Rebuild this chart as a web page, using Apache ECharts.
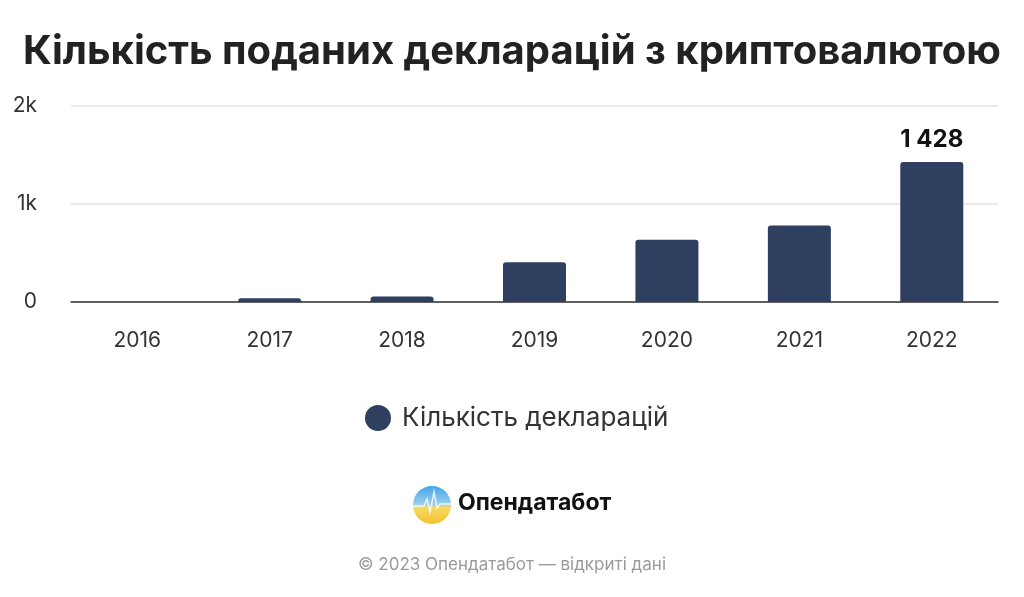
<!DOCTYPE html>
<html>
<head>
<meta charset="utf-8">
<script src="https://cdn.jsdelivr.net/npm/echarts@6/dist/echarts.min.js"></script>
<style>
html, body { margin: 0; padding: 0; background: #fff; }
#chart { width: 1024px; height: 597px; }
</style>
</head>
<body>
<div id="chart"></div>
<script>
var years = ['2016', '2017', '2018', '2019', '2020', '2021', '2022'];
var declarations = [1, 38, 55, 405, 635, 780, 1428];
var yTicks = { min: 0, max: 2000, interval: 1000 };
var barColor = '#2e3f5f';
var fontFamily = 'Inter, "Noto Sans", sans-serif';

function yLabel(value) {
    return value === 0 ? '0' : (value / 1000) + 'k';
}

function barData() {
    var last = declarations.length - 1;
    return declarations.map(function (v, i) {
        if (i !== last) {
            return v;
        }
        return {
            value: v,
            label: {
                show: true,
                position: 'top',
                distance: 10,
                formatter: function (p) {
                    return String(p.value).replace(/\B(?=(\d{3})+(?!\d))/g, ' ');
                },
                fontSize: 24,
                fontWeight: 'bold',
                color: '#111',
                fontFamily: fontFamily
            }
        };
    });
}

function initChart() {
    var chart = echarts.init(document.getElementById('chart'));
    var option = {
        animation: false,
        backgroundColor: '#fff',
        title: {
            text: 'Кількість поданих декларацій з криптовалютою',
            left: 'center',
            top: 27,
            textStyle: {
                fontSize: 40,
                fontWeight: 'bold',
                color: '#222',
                fontFamily: fontFamily
            }
        },
        grid: {
            left: 71,
            right: 26,
            top: 106,
            bottom: 295,
            containLabel: false
        },
        legend: {
            left: 360,
            top: 400,
            icon: 'circle',
            itemWidth: 26,
            itemHeight: 26,
            itemGap: 10,
            textStyle: {
                fontSize: 26,
                color: '#333',
                padding: [0, 0, 0, 6],
                fontFamily: fontFamily
            },
            data: ['Кількість декларацій']
        },
        xAxis: {
            type: 'category',
            data: years,
            axisLine: { lineStyle: { color: '#333', width: 1.5 } },
            axisTick: { show: false },
            axisLabel: {
                margin: 28,
                fontSize: 21,
                color: '#333',
                fontFamily: fontFamily
            }
        },
        yAxis: {
            type: 'value',
            min: yTicks.min,
            max: yTicks.max,
            interval: yTicks.interval,
            axisLine: { show: false },
            axisTick: { show: false },
            splitLine: { lineStyle: { color: '#e3e3e3', width: 1.5 } },
            axisLabel: {
                margin: 34,
                fontSize: 21,
                color: '#333',
                fontFamily: fontFamily,
                formatter: yLabel
            }
        },
        series: [{
            name: 'Кількість декларацій',
            type: 'bar',
            barWidth: 63,
            itemStyle: {
                color: barColor,
                borderRadius: [3, 3, 0, 0]
            },
            data: barData()
        }],
        graphic: [{
            type: 'circle',
            shape: { cx: 432, cy: 505, r: 19 },
            style: {
                fill: new echarts.graphic.LinearGradient(0, 0, 0, 1, [
                    { offset: 0, color: '#3fa6ef' },
                    { offset: 0.5, color: '#9fd0e8' },
                    { offset: 0.55, color: '#f5dc62' },
                    { offset: 1, color: '#f2c12e' }
                ])
            }
        }, {
            type: 'polyline',
            shape: {
                points: [[413, 506], [424, 506], [427, 499], [430, 512], [434, 492], [437, 508], [440, 504], [451, 504]]
            },
            style: { stroke: 'rgba(255,255,255,0.8)', lineWidth: 1.5, fill: null }
        }, {
            type: 'text',
            left: 458,
            top: 492,
            style: {
                text: 'Опендатабот',
                fontSize: 23,
                fontWeight: 'bold',
                fill: '#111',
                fontFamily: fontFamily
            }
        }, {
            type: 'text',
            left: 'center',
            top: 556,
            style: {
                text: '© 2023 Опендатабот — відкриті дані',
                fontSize: 17,
                fill: '#9a9a9a',
                fontFamily: fontFamily
            }
        }]
    };
    chart.setOption(option);
    return chart;
}

var chart = initChart();
</script>
</body>
</html>
